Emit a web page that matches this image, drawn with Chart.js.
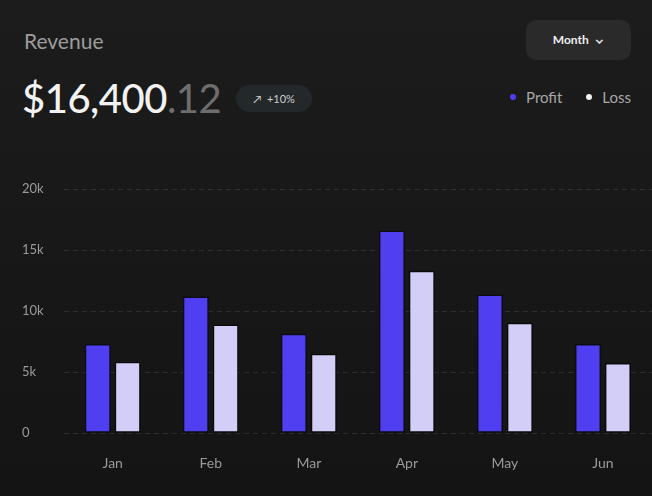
<!DOCTYPE html>
<html>
<head>
<meta charset="utf-8">
<script src="https://cdn.jsdelivr.net/npm/chart.js@4.4.0/dist/chart.umd.min.js"></script>
<style>
  html, body {
    margin: 0;
    padding: 0;
    width: 652px;
    height: 496px;
    overflow: hidden;
    background: linear-gradient(180deg, #1c1c1c 0%, #171717 60%, #141414 100%);
    font-family: "Lato", "Inter", sans-serif;
    color: #fff;
  }
  .title {
    position: absolute;
    left: 24px;
    top: 28px;
    font-size: 21px;
    color: #9c9c9c;
  }
  .amount {
    position: absolute;
    left: 22px;
    top: 74px;
    font-size: 40px;
    font-weight: 500;
    letter-spacing: -0.5px;
    color: #f2f2f2;
  }
  .amount span { color: #6e6e6e; font-weight: 400; }
  .badge {
    position: absolute;
    left: 236px;
    top: 85px;
    width: 76px;
    height: 27px;
    border-radius: 14px;
    background: #23282a;
    color: #cfcfcf;
    font-size: 11px;
    line-height: 27px;
    text-align: center;
  }
  .month {
    position: absolute;
    left: 526px;
    top: 20px;
    width: 105px;
    height: 40px;
    border-radius: 10px;
    background: #2a2a2a;
    color: #eee;
    font-size: 12px;
    font-weight: 700;
    line-height: 40px;
    text-align: center;
  }
  .legend {
    position: absolute;
    right: 21px;
    top: 88px;
    display: flex;
    gap: 24px;
    font-size: 15px;
    color: #a8a8a8;
  }
  .legend div { display: flex; align-items: center; gap: 10px; }
  .legend i { display: inline-block; width: 6px; height: 6px; border-radius: 50%; }
  #wrap {
    position: absolute;
    left: 0;
    top: 170px;
    width: 652px;
    height: 326px;
  }
</style>
</head>
<body>
<div class="title">Revenue</div>
<div class="amount">$16,400<span>.12</span></div>
<div class="badge">&#8599;&nbsp; +10%</div>
<div class="month">Month &nbsp;&#8964;</div>
<div class="legend" id="legend"></div>
<div id="wrap"><canvas id="myChart"></canvas></div>
<script>
const months = ['Jan', 'Feb', 'Mar', 'Apr', 'May', 'Jun'];
const profit = [7300, 11200, 8150, 16600, 11350, 7300];
const loss = [5850, 8900, 6500, 13300, 9050, 5750];
const yTicks = [0, 5000, 10000, 15000, 20000];

const profitColor = '#4f3ff0';
const lossColor = '#d2cef8';

const buildChart = () => {
    const ctx = document.getElementById('myChart');
    return new Chart(ctx, {
        type: 'bar',
        data: {
            labels: months,
            datasets: [{
                label: 'Profit',
                data: profit,
                backgroundColor: profitColor,
                borderColor: '#0c0c14',
                borderWidth: 1.5,
                borderSkipped: false,
                categoryPercentage: 0.61,
                barPercentage: 0.87,
            }, {
                label: 'Loss',
                data: loss,
                backgroundColor: lossColor,
                borderColor: '#0a0a0a',
                borderWidth: 1.5,
                borderSkipped: false,
                categoryPercentage: 0.61,
                barPercentage: 0.87,
            }]
        },
        options: {
            responsive: true,
            maintainAspectRatio: false,
            animation: false,
            layout: {
                padding: { top: 19, bottom: 10, left: 22, right: 0 }
            },
            plugins: {
                legend: { display: false },
                tooltip: { enabled: false },
            },
            scales: {
                x: {
                    grid: { display: false },
                    border: { display: false },
                    ticks: {
                        color: '#9a9a9a',
                        padding: 14,
                        font: { family: 'Lato', size: 14 },
                    },
                },
                y: {
                    min: yTicks[0],
                    max: yTicks[yTicks.length - 1],
                    afterBuildTicks: (axis) => {
                        axis.ticks = yTicks.map(v => ({ value: v }));
                    },
                    ticks: {
                        color: '#9a9a9a',
                        padding: 10,
                        crossAlign: 'far',
                        font: { family: 'Lato', size: 13 },
                        callback: (val) => val === 0 ? '0' : `${val / 1000}k`,
                    },
                    border: { display: false, dash: [5, 4] },
                    grid: {
                        display: true,
                        color: 'rgba(255, 255, 255, 0.1)',
                        drawTicks: false,
                    },
                },
            }
        }
    });
}

const legend = document.getElementById('legend');
[['Profit', profitColor], ['Loss', '#f2f2f2']].forEach(([name, color]) => {
    const item = document.createElement('div');
    item.innerHTML = `<i style="background:${color}"></i>${name}`;
    legend.appendChild(item);
});

buildChart();
</script>
</body>
</html>
